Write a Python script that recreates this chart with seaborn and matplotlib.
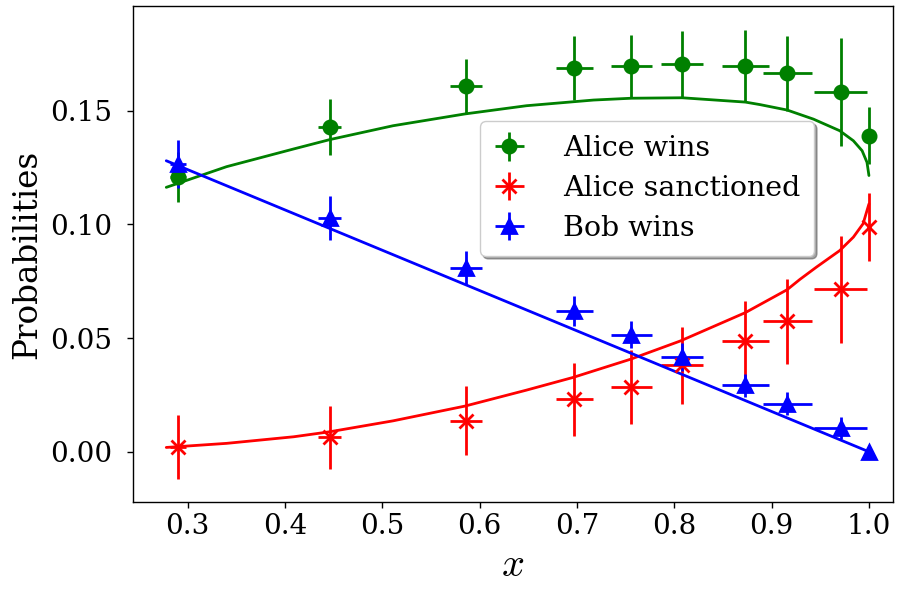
import numpy as np
import pandas as pd
import matplotlib
matplotlib.use("Agg")
import matplotlib.pyplot as plt
import seaborn as sns

# measured points
x_pts = [0.29, 0.446, 0.586, 0.697, 0.756, 0.808, 0.873, 0.916, 0.971, 1.0]
x_err = [0.008, 0.012, 0.016, 0.019, 0.021, 0.022, 0.024, 0.025, 0.027, 0.0]

alice_wins = [0.121, 0.1427, 0.1607, 0.1687, 0.1695, 0.1705, 0.1695, 0.1665, 0.1583, 0.139]
alice_wins_err = [0.011, 0.0123, 0.0121, 0.014, 0.0136, 0.0146, 0.0158, 0.0165, 0.0237, 0.0125]

alice_sanct = [0.0022, 0.0063, 0.0136, 0.023, 0.0285, 0.038, 0.0487, 0.0574, 0.0714, 0.0988]
alice_sanct_err = [0.014, 0.014, 0.0152, 0.0159, 0.0163, 0.017, 0.0174, 0.0186, 0.0236, 0.015]

bob_wins = [0.1266, 0.1029, 0.081, 0.0618, 0.0515, 0.0417, 0.0293, 0.0212, 0.0105, 0.0]
bob_wins_err = [0.0107, 0.0097, 0.0075, 0.0065, 0.0058, 0.006, 0.005, 0.005, 0.005, 0.0]

# theory curves
green_x = [0.278, 0.340, 0.409, 0.446, 0.511, 0.585, 0.648, 0.717, 0.756, 0.808,
           0.873, 0.888, 0.916, 0.943, 0.970, 0.984, 0.993, 0.998, 1.0]
green_y = [0.1163, 0.1254, 0.1332, 0.1373, 0.1434, 0.1486, 0.1522, 0.1547, 0.1555, 0.1557,
           0.1538, 0.1527, 0.1503, 0.1463, 0.1412, 0.1368, 0.1324, 0.1273, 0.1215]

red_x = [0.278, 0.340, 0.409, 0.446, 0.511, 0.585, 0.648, 0.696, 0.755, 0.806,
         0.873, 0.916, 0.929, 0.946, 0.970, 0.984, 0.994, 1.0]
red_y = [0.0019, 0.0037, 0.0066, 0.0088, 0.0136, 0.0201, 0.0271, 0.0327, 0.0407, 0.0487,
         0.0612, 0.0713, 0.0758, 0.0812, 0.0885, 0.0944, 0.1003, 0.109]

blue_x = [0.278, 1.0]
blue_y = [0.128, 0.0]

sns.set_style("ticks")
plt.rcParams['font.family'] = ['DejaVu Serif']
plt.rcParams['mathtext.fontset'] = 'cm'
plt.rcParams['text.color'] = 'black'
plt.rcParams['axes.labelcolor'] = 'black'
plt.rcParams['xtick.color'] = 'black'
plt.rcParams['ytick.color'] = 'black'

fig, ax = plt.subplots(figsize=(8.99, 5.92), dpi=100)
fig.subplots_adjust(left=0.1476, right=0.9933, bottom=0.152, top=0.99)

series = [
    (alice_wins, alice_wins_err, green_x, green_y, 'green', 'o', 'Alice wins'),
    (alice_sanct, alice_sanct_err, red_x, red_y, 'red', 'x', 'Alice sanctioned'),
    (bob_wins, bob_wins_err, blue_x, blue_y, 'blue', '^', 'Bob wins'),
]
for y, yerr, cx, cy, col, mk, lab in series:
    ax.errorbar(x_pts, y, xerr=x_err, yerr=yerr, fmt=mk, color=col, ms=9.5,
                mew=2, elinewidth=2, capsize=0, label=lab)
    sns.lineplot(x=cx, y=cy, color=col, lw=2, ax=ax)

ax.set_xlim(0.2435, 1.0247)
ax.set_ylim(-0.0221, 0.1961)
ax.set_xticks([0.3, 0.4, 0.5, 0.6, 0.7, 0.8, 0.9, 1.0])
ax.set_yticks([0.0, 0.05, 0.10, 0.15])
ax.tick_params(labelsize=20, length=4.5, width=1, color='black')
ax.tick_params(axis='y', pad=10)
for s in ax.spines.values():
    s.set_color('black')
    s.set_linewidth(1.0)
ax.set_xlabel('$x$', fontsize=29, labelpad=5)
ax.set_ylabel('Probabilities', fontsize=23.5, labelpad=5)

ax.legend(loc='upper left', bbox_to_anchor=(0.457, 0.768), borderaxespad=0,
          fontsize=20.5, shadow=True, handlelength=1.05, handletextpad=1.35,
          borderpad=0.5, labelspacing=0.45)

fig.savefig('out.png', dpi=100)
